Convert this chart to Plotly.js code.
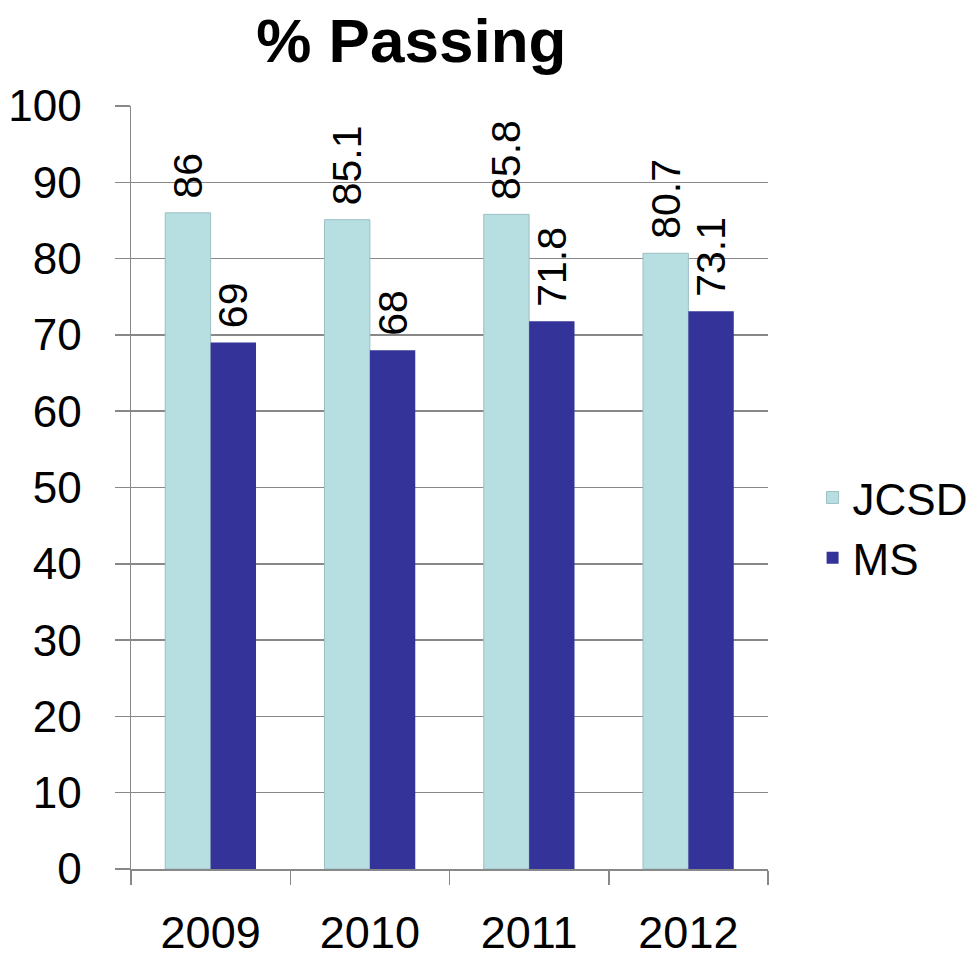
<!DOCTYPE html>
<html>
<head>
<meta charset="utf-8">
<script src="https://cdn.plot.ly/plotly-3.0.1.min.js"></script>
<style>html,body{margin:0;padding:0;background:#fff;}#chart{width:977px;height:957px;}</style>
</head>
<body>
<div id="chart"></div>
<script>
const years = ['2009', '2010', '2011', '2012'];
const jcsd = [86, 85.1, 85.8, 80.7];
const ms = [69, 68, 71.8, 73.1];
const yTicks = [0, 10, 20, 30, 40, 50, 60, 70, 80, 90, 100];

const FONT = 'Liberation Sans, Arial, sans-serif';

const common = {
  type: 'bar',
  x: years,
  textposition: 'outside',
  textangle: -90,
  constraintext: 'none',
  cliponaxis: false,
  texttemplate: '\u00a0%{y}',
  textfont: {family: FONT, size: 41, color: '#000'}
};

const data = [
  Object.assign({}, common, {
    name: 'JCSD', y: jcsd,
    marker: {color: '#B7DFE2', line: {color: '#9DBFC3', width: 1}}
  }),
  Object.assign({}, common, {
    name: 'MS', y: ms,
    marker: {color: '#333399', line: {width: 0}}
  })
];

const layout = {
  width: 977, height: 957,
  margin: {l: 131, r: 209, t: 106, b: 88, autoexpand: false},
  paper_bgcolor: '#fff', plot_bgcolor: '#fff',
  font: {family: FONT, color: '#000'},
  title: {text: '<b>% Passing</b>', font: {family: FONT, size: 62, color: '#000'},
          xref: 'container', x: 0.421, xanchor: 'center', yref: 'container', y: 0.958, yanchor: 'middle'},
  barmode: 'group',
  bargap: 0.43, bargroupgap: 0,
  showlegend: true,
  legend: {x: 1.07, xanchor: 'left', y: 0.447, yanchor: 'middle',
           font: {family: FONT, size: 44, color: '#000'}, tracegroupgap: 0,
           borderwidth: 0, bgcolor: 'rgba(0,0,0,0)'},
  xaxis: {
    type: 'category',
    tickson: 'boundaries',
    ticks: 'outside', ticklen: 14, tickcolor: '#888', tickwidth: 1.5,
    showline: true, linecolor: '#888', linewidth: 1.5,
    showgrid: false,
    automargin: false,
    tickfont: {family: FONT, size: 45, color: '#000'},
    ticklabelstandoff: 23,
    fixedrange: true
  },
  yaxis: {
    range: [0, 100],
    tickvals: yTicks,
    ticktext: yTicks.map(String),
    ticks: 'outside', ticklen: 15, tickcolor: '#888', tickwidth: 1.5,
    showline: true, linecolor: '#888', linewidth: 1.5,
    showgrid: true, gridcolor: '#888', gridwidth: 1.5,
    zeroline: false,
    automargin: false,
    tickfont: {family: FONT, size: 44, color: '#000'},
    ticklabelstandoff: 24,
    fixedrange: true
  }
};

Plotly.newPlot('chart', data, layout, {displayModeBar: false, staticPlot: true});
</script>
</body>
</html>
